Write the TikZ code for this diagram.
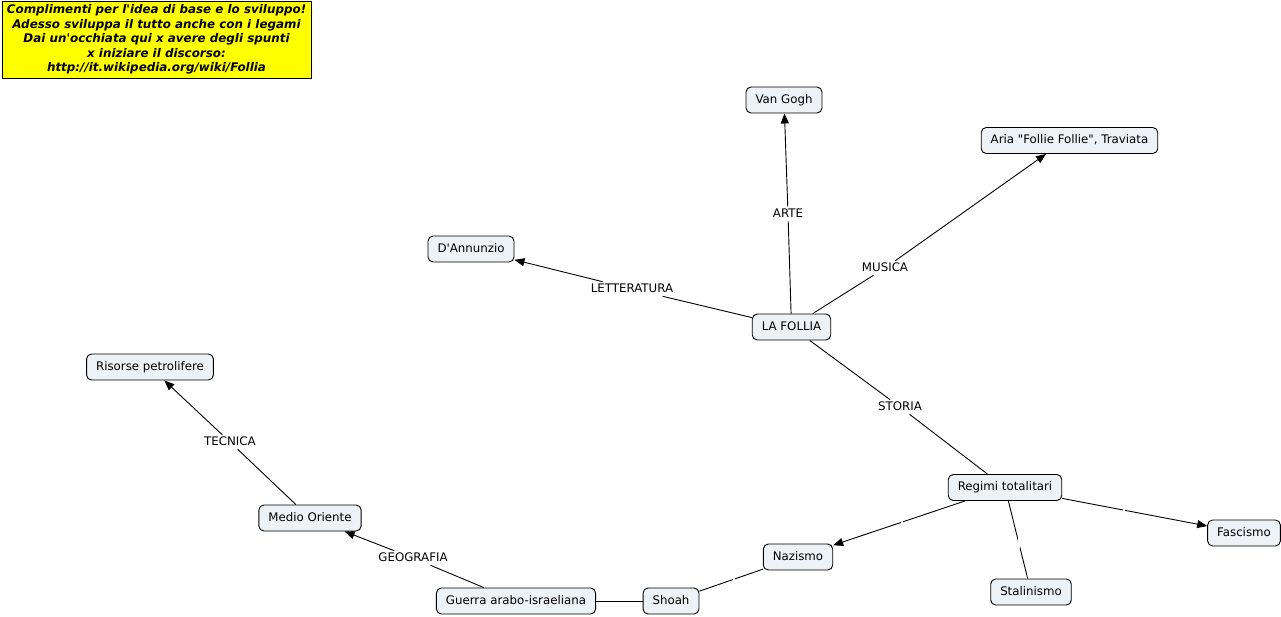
\documentclass[tikz,border=0pt]{standalone}
\usepackage{fontspec}
\setmainfont{DejaVu Sans}[Ligatures=TeXOff]
\usetikzlibrary{arrows.meta}
\definecolor{conceptfill}{RGB}{237,242,246}
\definecolor{notefill}{RGB}{255,255,0}
\tikzset{
  concept/.style={draw=black, line width=0.9pt, rounded corners=5pt, fill=conceptfill,
    font=\fontsize{11.8}{13}\selectfont, inner xsep=9.5pt, minimum height=26pt,
    text height=8.8pt, text depth=2.4pt},
  linklabel/.style={fill=white, inner sep=1.5pt, font=\fontsize{11.8}{13}\selectfont,
    text height=8.8pt, text depth=2.4pt},
  emptylabel/.style={fill=white, inner sep=0pt, minimum width=2pt, minimum height=15pt},
  conn/.style={line width=0.9pt, draw=black},
  arr/.style={conn, -{Triangle[length=10pt,width=8pt]}},
  note/.style={draw=black, line width=1pt, fill=notefill, align=center,
    font=\fontsize{11.9}{14.6}\selectfont\bfseries\itshape, minimum width=309pt, minimum height=77pt, inner sep=0pt}
}
\begin{document}
\begin{tikzpicture}[x=1pt,y=-1pt]
\useasboundingbox (0,0) rectangle (1281,616);
\node[note] (nota) at (156.5,39.5) {Complimenti per l'idea di base e lo sviluppo!\\Adesso sviluppa il tutto anche con i legami\\Dai un'occhiata qui x avere degli spunti\\x iniziare il discorso:\\http://it.wikipedia.org/wiki/Follia};

% concepts
\node[concept] (vangogh) at (784,100) {Van Gogh};
\node[concept] (aria) at (1069.5,140.5) {Aria "Follie Follie", Traviata};
\node[concept] (dannunzio) at (471,249) {D'Annunzio};
\node[concept] (follia) at (791.5,327) {LA FOLLIA};
\node[concept] (risorse) at (150,367) {Risorse petrolifere};
\node[concept] (medio) at (310,518) {Medio Oriente};
\node[concept] (regimi) at (1005,487.5) {Regimi totalitari};
\node[concept] (fascismo) at (1244,533) {Fascismo};
\node[concept] (nazismo) at (798,557) {Nazismo};
\node[concept] (stalinismo) at (1031,592) {Stalinismo};
\node[concept] (guerra) at (516,601) {Guerra arabo-israeliana};
\node[concept] (shoah) at (671,601) {Shoah};

% link labels
\node[linklabel] (arte) at (788,214) {ARTE};
\node[linklabel] (musica) at (885,268) {MUSICA};
\node[linklabel] (lett) at (632,289) {LETTERATURA};
\node[linklabel] (storia) at (900,407) {STORIA};
\node[linklabel] (geo) at (413,558) {GEOGRAFIA};
\node[linklabel] (tecnica) at (230,442) {TECNICA};

% connectors
\draw[conn] (follia) -- (arte);
\draw[arr] (arte) -- (vangogh);
\draw[conn] (follia) -- (musica);
\draw[arr] (musica) -- (aria.south west -| 1046,0);
\draw[conn] (follia) -- (lett);
\draw[arr] (lett) -- (dannunzio);
\draw[conn] (follia) -- (storia);
\draw[conn] (storia) -- (regimi);

\draw[arr] (regimi) -- (nazismo);
\draw[conn] (regimi) -- (stalinismo);
\draw[arr] (regimi) -- (fascismo);
\draw[conn] (nazismo) -- (shoah);
\draw[conn] (shoah) -- (guerra);
\draw[conn] (guerra) -- (geo);
\draw[arr] (geo) -- (medio);
\draw[conn] (medio) -- (tecnica);
\draw[arr] (tecnica) -- (risorse);

% empty link labels (white gaps)
\node[emptylabel] (l1) at (902,522) {};
\node[emptylabel] (l2) at (1019,540) {};
\node[emptylabel] (l3) at (1124,512) {};
\node[emptylabel] (l4) at (734,577) {};
\end{tikzpicture}
\end{document}
